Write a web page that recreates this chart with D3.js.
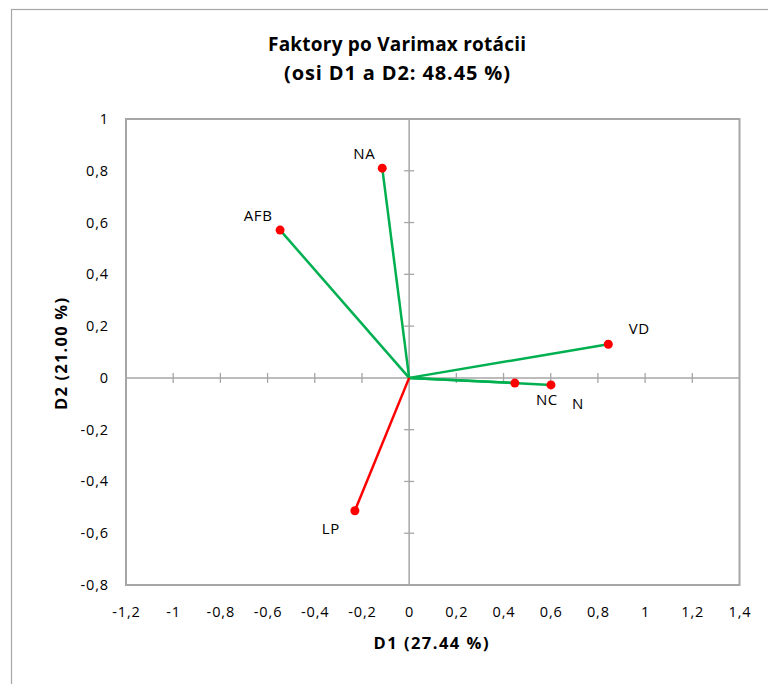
<!DOCTYPE html>
<html>
<head>
<meta charset="utf-8">
<script src="https://cdn.jsdelivr.net/npm/d3@7"></script>
<style>
  html, body { margin: 0; padding: 0; background: #fff; }
  svg { display: block; }
  text { font-family: "Open Sans", "Liberation Sans", Arial, sans-serif; fill: #000; }
</style>
</head>
<body>
<div id="chart"></div>
<script>
// ---- data ----
const variables = ["NA", "AFB", "VD", "NC", "N", "LP"];
const d1Values = [-0.114, -0.547, 0.844, 0.448, 0.601, -0.230];
const d2Values = [0.810, 0.571, 0.130, -0.020, -0.027, -0.513];
const lineColors = ["green", "green", "green", "green", "green", "red"];
const xTicks = [-1.2, -1, -0.8, -0.6, -0.4, -0.2, 0, 0.2, 0.4, 0.6, 0.8, 1, 1.2, 1.4];
const yTicks = [-0.8, -0.6, -0.4, -0.2, 0, 0.2, 0.4, 0.6, 0.8, 1];
const titleLines = ["Faktory po Varimax rotácii", "(osi D1 a D2: 48.45 %)"];
const xTitle = "D1 (27.44 %)";
const yTitle = "D2 (21.00 %)";
// label offsets (dx, dy) relative to point
const labelOffsets = [[-18, -14], [-22, -14], [31, -15], [32, 17], [27, 19], [-24, 18]];

const W = 768, H = 684;
const plot = { left: 126, right: 739.5, top: 119, bottom: 585 };
const gray = "#A6A6A6";
const colorMap = { green: "#00B050", red: "#FF0000" };
const fmt = v => (Math.round(v * 10) / 10).toString().replace(".", ",");

const svg = d3.select("#chart").append("svg").attr("width", W).attr("height", H);

// outer chart border
svg.append("rect")
  .attr("x", 11.5).attr("y", 9.5).attr("width", W + 10).attr("height", H + 10)
  .attr("fill", "#fff").attr("stroke", gray).attr("stroke-width", 1.2);

const x = d3.scaleLinear().domain([-1.2, 1.4]).range([plot.left, plot.right]);
const y = d3.scaleLinear().domain([-0.8, 1]).range([plot.bottom, plot.top]);

// title
svg.append("text").attr("x", 397).attr("y", 51).attr("text-anchor", "middle")
  .attr("textLength", 258).attr("lengthAdjust", "spacing")
  .style("font-size", "19px").style("font-weight", "bold").text(titleLines[0]);
svg.append("text").attr("x", 397).attr("y", 80).attr("text-anchor", "middle")
  .attr("textLength", 226).attr("lengthAdjust", "spacing")
  .style("font-size", "20px").style("font-weight", "bold").text(titleLines[1]);

// plot area border
svg.append("rect")
  .attr("x", plot.left).attr("y", plot.top)
  .attr("width", plot.right - plot.left).attr("height", plot.bottom - plot.top)
  .attr("fill", "none").attr("stroke", gray).attr("stroke-width", 2);

// zero lines
svg.append("line").attr("x1", plot.left).attr("x2", plot.right)
  .attr("y1", y(0)).attr("y2", y(0)).attr("stroke", gray).attr("stroke-width", 1.5);
svg.append("line").attr("x1", x(0)).attr("x2", x(0))
  .attr("y1", plot.top).attr("y2", plot.bottom).attr("stroke", gray).attr("stroke-width", 1.5);

// cross ticks on zero lines
svg.append("g").selectAll("line").data(xTicks.filter(t => t > -1.2 && t < 1.4 && t !== 0))
  .join("line")
  .attr("x1", d => x(d)).attr("x2", d => x(d))
  .attr("y1", y(0) - 5).attr("y2", y(0) + 5)
  .attr("stroke", gray).attr("stroke-width", 1.3);
svg.append("g").selectAll("line").data(yTicks.filter(t => t > -0.8 && t < 1 && t !== 0))
  .join("line")
  .attr("x1", x(0) - 5).attr("x2", x(0) + 5)
  .attr("y1", d => y(d)).attr("y2", d => y(d))
  .attr("stroke", gray).attr("stroke-width", 1.3);

// tick labels
svg.append("g").selectAll("text").data(xTicks).join("text")
  .attr("x", d => x(d) + 0.5).attr("y", 617).attr("text-anchor", "middle")
  .style("font-size", "14.5px").style("letter-spacing", "0.9px").text(fmt);
svg.append("g").selectAll("text").data(yTicks).join("text")
  .attr("x", 109).attr("y", d => y(d) + 5).attr("text-anchor", "end")
  .style("font-size", "14.5px").style("letter-spacing", "0.9px").text(fmt);

// axis titles
svg.append("text").attr("x", 431).attr("y", 649).attr("text-anchor", "middle")
  .attr("textLength", 115).attr("lengthAdjust", "spacing")
  .style("font-size", "16.5px").style("font-weight", "bold").text(xTitle);
svg.append("text").attr("transform", "translate(67,354) rotate(-90)")
  .attr("text-anchor", "middle")
  .attr("textLength", 112).attr("lengthAdjust", "spacing")
  .style("font-size", "16.5px").style("font-weight", "bold").text(yTitle);

// vectors
const pts = variables.map((v, i) => ({ name: v, x: d1Values[i], y: d2Values[i], c: colorMap[lineColors[i]], off: labelOffsets[i] }));
svg.append("g").selectAll("line").data(pts).join("line")
  .attr("x1", x(0)).attr("y1", y(0))
  .attr("x2", d => x(d.x)).attr("y2", d => y(d.y))
  .attr("stroke", d => d.c).attr("stroke-width", 2.5);

svg.append("g").selectAll("circle").data(pts).join("circle")
  .attr("cx", d => x(d.x)).attr("cy", d => y(d.y)).attr("r", 4.5)
  .attr("fill", "#FF0000");

svg.append("g").selectAll("text").data(pts).join("text")
  .attr("x", d => x(d.x) + d.off[0]).attr("y", d => y(d.y) + d.off[1] + 5)
  .attr("text-anchor", "middle").style("font-size", "15px").style("letter-spacing", "0.6px")
  .text(d => d.name);
</script>
</body>
</html>
